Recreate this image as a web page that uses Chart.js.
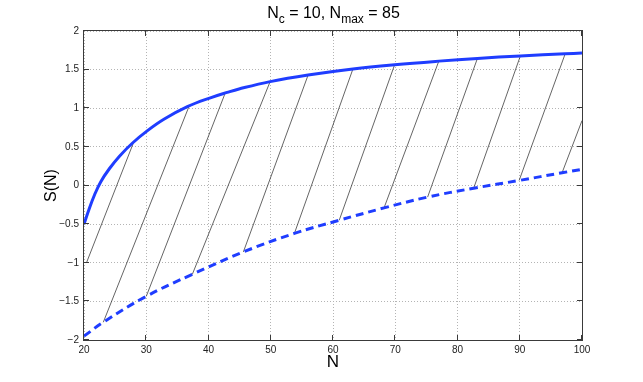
<!DOCTYPE html>
<html>
<head>
<meta charset="utf-8">
<script src="https://cdn.jsdelivr.net/npm/chart.js@4.4.0/dist/chart.umd.min.js"></script>
<style>
  html, body { margin: 0; padding: 0; background: #fff; }
  #sChart { display: block; }
</style>
</head>
<body>
<canvas id="sChart" width="643" height="382"></canvas>
<script>
// values
const upperN = [20, 20.8, 21.7, 22.7, 24.1, 25.7, 27.8, 30.2, 32.9, 36.6, 40.3, 43.0, 44.9, 49.9, 56.0, 63.2, 69.9, 77.0, 83.2, 90.1, 97.3, 100];
const upperS = [-0.50, -0.31, -0.12, 0.05, 0.22, 0.38, 0.55, 0.71, 0.86, 1.02, 1.135, 1.205, 1.25, 1.345, 1.43, 1.508, 1.563, 1.61, 1.645, 1.677, 1.705, 1.715];
const lowerN = [20, 23.1, 30.0, 37.4, 45.6, 53.8, 61.0, 68.2, 75.2, 82.6, 89.9, 96.8, 100];
const lowerS = [-1.95, -1.77, -1.435, -1.15, -0.86, -0.62, -0.45, -0.29, -0.15, -0.035, 0.065, 0.165, 0.21];
// hatch segments: start (N0,S0) -> end (N1,S1)
const hatchN0 = [20.4, 23.1, 30.0, 37.4, 45.6, 53.8, 61.0, 68.2, 75.2, 82.6, 89.9, 96.8];
const hatchS0 = [-1.0, -1.77, -1.435, -1.15, -0.86, -0.62, -0.45, -0.29, -0.15, -0.035, 0.065, 0.165];
const hatchN1 = [28.0, 36.9, 42.7, 49.9, 56.0, 63.2, 69.9, 77.0, 83.2, 90.1, 97.3, 100];
const hatchS1 = [0.565, 1.03, 1.2, 1.345, 1.43, 1.508, 1.563, 1.61, 1.645, 1.677, 1.705, 0.84];
const xTicks = [20, 30, 40, 50, 60, 70, 80, 90, 100];
const yTicks = [-2, -1.5, -1, -0.5, 0, 0.5, 1, 1.5, 2];

const blue = '#1f3dff';
const font = 'Liberation Sans, Arial, Helvetica, sans-serif';

const hatchPts = [];
hatchN0.forEach((n, i) => {
    hatchPts.push({ x: n, y: hatchS0[i] });
    hatchPts.push({ x: hatchN1[i], y: hatchS1[i] });
    hatchPts.push({ x: hatchN1[i], y: null });
});

const frame = {
    id: 'frame',
    afterDraw(chart) {
        const ctx = chart.ctx;
        const a = chart.chartArea;
        const xs = chart.scales.x, ys = chart.scales.y;
        ctx.save();
        // box + inward ticks
        ctx.strokeStyle = '#3a3a3a';
        ctx.lineWidth = 1;
        ctx.strokeRect(a.left - 0.5, a.top - 0.5, a.right - a.left + 1, a.bottom - a.top + 1);
        ctx.beginPath();
        xTicks.forEach(v => {
            const px = Math.round(xs.getPixelForValue(v)) - 0.5;
            ctx.moveTo(px, a.bottom); ctx.lineTo(px, a.bottom - 5);
            ctx.moveTo(px, a.top); ctx.lineTo(px, a.top + 5);
        });
        yTicks.forEach(v => {
            const py = Math.round(ys.getPixelForValue(v)) - 0.5;
            ctx.moveTo(a.left, py); ctx.lineTo(a.left + 5, py);
            ctx.moveTo(a.right, py); ctx.lineTo(a.right - 5, py);
        });
        ctx.stroke();

        // title with subscripts
        ctx.fillStyle = '#000';
        ctx.textBaseline = 'alphabetic';
        const parts = [['N', 16, 0], ['c', 12, 5], [' = 10, N', 16, 0], ['max', 12, 5], [' = 85', 16, 0]];
        let w = 0;
        parts.forEach(p => { ctx.font = p[1] + 'px ' + font; w += ctx.measureText(p[0]).width; });
        let x = (a.left + a.right) / 2 - w / 2 + 0.5;
        parts.forEach(p => {
            ctx.font = p[1] + 'px ' + font;
            ctx.textAlign = 'left';
            ctx.fillText(p[0], x, 18 + p[2]);
            x += ctx.measureText(p[0]).width;
        });

        // axis labels
        ctx.font = '17px ' + font;
        ctx.textAlign = 'center';
        ctx.textBaseline = 'middle';
        ctx.fillText('N', (a.left + a.right) / 2, 362);
        ctx.translate(52, (a.top + a.bottom) / 2);
        ctx.rotate(-Math.PI / 2);
        ctx.font = '16px ' + font;
        ctx.fillText('S(N)', 0, 0);
        ctx.restore();
    }
};

new Chart(document.getElementById('sChart').getContext('2d'), {
    type: 'scatter',
    data: {
        datasets: [
            { label: 'upper', data: upperN.map((n, i) => ({ x: n, y: upperS[i] })), showLine: true, borderColor: blue, borderWidth: 3, pointRadius: 0, tension: 0.4, order: 1 },
            { label: 'lower', data: lowerN.map((n, i) => ({ x: n, y: lowerS[i] })), showLine: true, borderColor: blue, borderWidth: 3, borderDash: [8, 5], pointRadius: 0, tension: 0.4, order: 2 },
            { label: 'hatch', data: hatchPts, showLine: true, spanGaps: false, borderColor: '#222', borderWidth: 0.7, pointRadius: 0, order: 3 }
        ]
    },
    options: {
        responsive: false,
        animation: false,
        layout: { padding: { left: 0, top: 31, right: 61, bottom: 0 } },
        plugins: { legend: { display: false }, tooltip: { enabled: false }, title: { display: false } },
        scales: {
            x: {
                type: 'linear', min: 20, max: 100,
                afterFit: s => { s.height = 42; },
                afterBuildTicks: s => { s.ticks = xTicks.map(v => ({ value: v })); },
                grid: { color: '#b4b4b4', drawTicks: false },
                border: { display: false, dash: [1, 2] },
                ticks: { padding: 4, color: '#222', font: { family: font, size: 10 }, maxRotation: 0 }
            },
            y: {
                type: 'linear', min: -2, max: 2,
                afterFit: s => { s.width = 84; },
                afterBuildTicks: s => { s.ticks = yTicks.map(v => ({ value: v })); },
                grid: { color: '#b4b4b4', drawTicks: false },
                border: { display: false, dash: [1, 2] },
                ticks: { padding: 5, color: '#222', font: { family: font, size: 10 }, callback: v => String(v).replace('-', '\u2212') }
            }
        }
    },
    plugins: [frame]
});
</script>
</body>
</html>
